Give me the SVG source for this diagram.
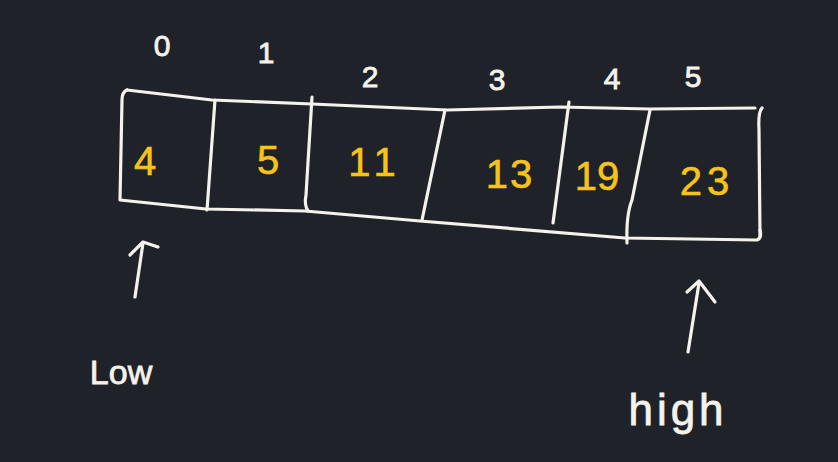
<svg xmlns="http://www.w3.org/2000/svg" width="838" height="462" viewBox="0 0 838 462">
<style>
.ink{fill:none;stroke:#f4f2ea;stroke-width:3.2;stroke-linecap:round;stroke-linejoin:round}
.idx{fill:#f4f2ea;stroke:#f4f2ea;stroke-width:0.8;font-family:"Liberation Sans",Arial,sans-serif;font-size:30px;text-anchor:middle}
.val{fill:#f7c31a;stroke:#f7c31a;stroke-width:0.6;font-family:"Liberation Sans",Arial,sans-serif;font-size:40px;text-anchor:middle}
.lbl{fill:#f4f2ea;stroke:#f4f2ea;stroke-width:0.8;font-family:"Liberation Sans",Arial,sans-serif;text-anchor:middle}
</style>
<rect width="838" height="462" fill="#1f2329"/>
<g id="array">
<path class="ink" d="M127,90 Q122,92 122,100 L120,200 L206,209 L305,211 L420,221 L625,238 L757,240 Q762,238 760,230"/>
<path class="ink" d="M127,90 L212,100 L312,104 L447,110 L560,107 L650,109 L755,108"/>
<path class="ink" d="M762,108 Q758,112 759,130 L760,236"/>
<path class="ink" d="M215,100 L207,210"/>
<path class="ink" d="M312,97 L306,195 Q304,205 308,211"/>
<path class="ink" d="M445,110 L422,220"/>
<path class="ink" d="M569,102 L553,223"/>
<path class="ink" d="M650,110 L632,200 Q626,215 627,243"/>
</g>
<g id="indices">
<text class="idx" x="162" y="56">0</text>
<text class="idx" x="266" y="63">1</text>
<text class="idx" x="370" y="87">2</text>
<text class="idx" x="497" y="90">3</text>
<text class="idx" x="612" y="89">4</text>
<text class="idx" x="693" y="87">5</text>
</g>
<g id="values">
<text class="val" x="145" y="175" font-size="50">4</text>
<text class="val" x="268" y="174">5</text>
<text class="val" x="375" y="176" letter-spacing="6">11</text>
<text class="val" x="510" y="188" letter-spacing="2">13</text>
<text class="val" x="597" y="190">19</text>
<text class="val" x="707" y="195" letter-spacing="5">23</text>
</g>
<g id="connectors">
<path class="ink" d="M135,297 L143,243"/>
<path class="ink" d="M130,255 L143,242 L158,247"/>
<path class="ink" d="M688,352 L699,283"/>
<path class="ink" d="M687,292 L699,281 L715,302"/>
</g>
<g id="low">
<text class="lbl" x="121" y="384" font-size="34">Low</text>
</g>
<g id="high">
<text class="lbl" x="678" y="425" font-size="44" letter-spacing="4">high</text>
</g>
</svg>
